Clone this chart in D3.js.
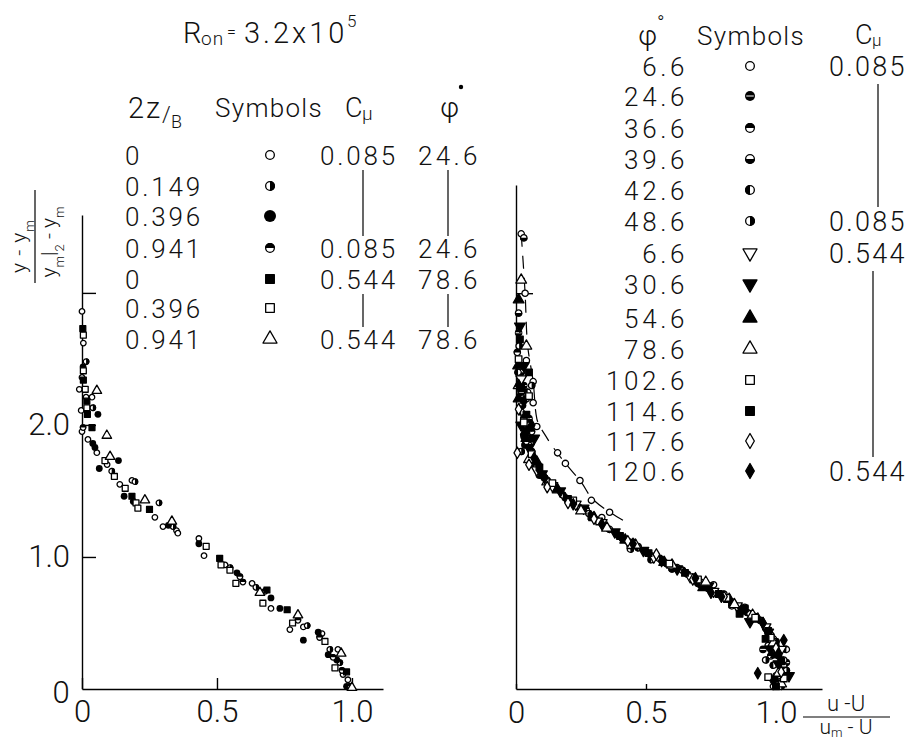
<!DOCTYPE html>
<html>
<head>
<meta charset="utf-8">
<script src="https://cdn.jsdelivr.net/npm/d3@7"></script>
<style>
  body { margin: 0; background: #fff; }
  svg text { font-family: Roboto, "DejaVu Sans", sans-serif; font-weight: 300; fill: #111; }
</style>
</head>
<body>
<svg id="chart" width="920" height="745"></svg>
<script>
// ---------- data ----------
// left panel: 2z/B series, Cmu and phi labels
const leftZ = ["0", "0.149", "0.396", "0.941", "0", "0.396", "0.941"];
const leftCmu = ["0.085", "", "", "0.085", "0.544", "", "0.544"];
const leftPhi = ["24.6", "", "", "24.6", "78.6", "", "78.6"];

// [ (u-U)/(um-U), (y-ym)/(ym/2-ym) ]
const left_z0_c085 = [[0, 2.86], [0.005, 2.62], [0, 2.36], [-0.01, 2.27], [0.015, 2.21], [0.037, 2.21],
  [-0.003, 2.11], [0, 1.95], [0.022, 1.89], [0.055, 1.79], [0.093, 1.7], [0.14, 1.55], [0.185, 1.58],
  [0.27, 1.3], [0.3, 1.23], [0.35, 1.2], [0.355, 1.18], [0.433, 1.14], [0.452, 1.01], [0.53, 0.94],
  [0.63, 0.8], [0.7, 0.61], [0.77, 0.45], [0.82, 0.47], [0.889, 0.42], [0.948, 0.3], [0.967, 0.11], [0.985, 0.07]];
const left_z149 = [[0.015, 2.48], [0.04, 2.13], [0.11, 1.65], [0.196, 1.57], [0.337, 1.23], [0.548, 0.92],
  [0.644, 0.77], [0.834, 0.48], [0.918, 0.3], [0.955, 0.2], [0.285, 1.41]];
const left_z396 = [[0.004, 2.44], [0.059, 2.08], [0.04, 1.86], [0.048, 1.83], [0.135, 1.73], [0.064, 1.67],
  [0.156, 1.46], [0.19, 1.42], [0.32, 1.24], [0.433, 1.1], [0.574, 0.88], [0.7, 0.69], [0.733, 0.61],
  [0.82, 0.37], [0.875, 0.43], [0.912, 0.26], [0.944, 0.22], [0.98, 0.02]];
const left_z941 = [[0.004, 1.98], [0.585, 0.85], [0.678, 0.74], [0.8, 0.52], [0.88, 0.39], [0.93, 0.24],
  [0.963, 0.14], [0.993, 0.02], [0.596, 0.81]];
const left_z0_c544 = [[0.003, 2.73], [0.005, 2.34], [0.02, 2.08], [0.037, 1.98], [0.185, 1.46], [0.25, 1.36],
  [0.51, 0.99], [0.685, 0.75], [0.76, 0.6], [0.98, 0.13], [0.018, 2.18]];
const left_z396_c544 = [[0.005, 2.68], [0.005, 2.41], [0.012, 2.27], [0.018, 2.13], [0.085, 1.73], [0.12, 1.61],
  [0.16, 1.52], [0.2, 1.41], [0.207, 1.37], [0.46, 1.08], [0.515, 0.94], [0.548, 0.9], [0.57, 0.8],
  [0.67, 0.65], [0.78, 0.5], [0.9, 0.36], [0.937, 0.16]];
const left_z941_c544 = [[0.055, 2.26], [0.092, 1.92], [0.104, 1.76], [0.233, 1.43], [0.333, 1.27],
  [0.659, 0.73], [0.8, 0.56], [1.0, 0.01], [0.96, 0.27]];
const leftData = [left_z0_c085, left_z149, left_z396, left_z941, left_z0_c544, left_z396_c544, left_z941_c544];

// right panel: phi series and Cmu labels
const rightPhi = ["6.6", "24.6", "36.6", "39.6", "42.6", "48.6", "6.6", "30.6", "54.6", "78.6", "102.6", "114.6", "117.6", "120.6"];
const rightCmu = ["0.085", "", "", "", "", "0.085", "0.544", "", "", "", "", "", "", "0.544"];

const r_p66 = [[0.02, 3.45], [0.035, 3.0], [0.04, 2.49], [0.066, 2.33], [0.066, 2.17], [0.08, 1.99], [0.16, 1.79],
  [0.19, 1.71], [0.246, 1.58], [0.29, 1.43], [0.33, 1.3], [0.36, 1.34], [0.47, 1.08], [0.62, 0.92],
  [0.71, 0.81], [0.76, 0.79], [0.8, 0.72], [0.88, 0.62], [0.97, 0.45], [1.01, 0.25], [1.03, 0.08], [0.99, 0.02]];
const r_p246 = [[0.01, 2.7], [0.02, 2.25], [0.04, 1.95], [0.09, 1.62], [0.15, 1.52], [0.27, 1.36], [0.43, 1.12],
  [0.56, 0.98], [0.66, 0.87], [0.79, 0.71], [0.92, 0.55], [1.0, 0.33], [1.02, 0.12],
  [0.03, 2.3], [0.05, 2.05], [0.95, 0.3], [1.04, 0.2], [0.7, 0.8]];
const r_p366 = [[0.005, 2.55], [0.03, 2.05], [0.06, 1.76], [0.12, 1.58], [0.21, 1.42], [0.34, 1.24], [0.5, 1.04],
  [0.61, 0.92], [0.74, 0.76], [0.86, 0.61], [0.96, 0.46], [1.01, 0.28], [1.0, 0.05],
  [0.04, 2.2], [0.06, 1.95], [1.02, 0.15], [0.98, 0.25], [0.83, 0.63]];
const r_p396 = [[0.03, 3.42], [0.01, 2.85], [0.025, 2.15], [0.05, 1.85], [0.1, 1.62], [0.19, 1.45], [0.31, 1.28],
  [0.41, 1.14], [0.52, 1.01], [0.69, 0.82], [0.83, 0.66], [0.94, 0.52], [0.99, 0.38], [1.03, 0.17],
  [0.02, 2.4], [0.05, 2.0], [1.0, 0.1], [0.97, 0.33], [0.6, 0.91]];
const r_p426 = [[0.008, 2.4], [0.02, 2.1], [0.07, 1.7], [0.13, 1.55], [0.24, 1.38], [0.36, 1.21], [0.47, 1.07],
  [0.58, 0.95], [0.71, 0.79], [0.89, 0.58], [0.98, 0.41], [1.03, 0.22], [1.01, 0.1],
  [0.045, 2.25], [0.035, 1.85], [0.99, 0.18], [1.04, 0.3], [0.52, 0.98]];
const r_p486 = [[0.012, 2.6], [0.03, 1.92], [0.06, 1.8], [0.11, 1.6], [0.18, 1.47], [0.28, 1.33], [0.39, 1.17],
  [0.55, 0.99], [0.64, 0.9], [0.77, 0.73], [0.9, 0.57], [1.0, 0.36], [1.04, 0.14],
  [0.06, 2.3], [0.02, 1.8], [0.96, 0.22], [1.02, 0.02], [0.44, 1.06]];
const r_p66b = [[0.02, 2.35], [0.04, 1.88], [0.08, 1.66], [0.14, 1.54], [0.23, 1.4], [0.33, 1.26], [0.44, 1.11],
  [0.53, 1.0], [0.67, 0.85], [0.76, 0.74], [0.85, 0.63], [0.96, 0.47], [1.02, 0.3]];
const r_p306 = [[0.015, 2.75], [0.02, 2.0], [0.05, 1.83], [0.1, 1.63], [0.17, 1.5], [0.26, 1.37], [0.38, 1.19],
  [0.49, 1.05], [0.62, 0.91], [0.74, 0.78], [0.87, 0.6], [0.97, 0.43], [1.01, 0.19],
  [0.03, 2.45], [0.07, 1.9], [1.05, 0.1], [0.98, 0.3], [0.9, 0.51]];
const r_p546 = [[0.01, 2.95], [0.008, 2.45], [0.01, 2.2], [0.04, 1.9], [0.08, 1.72], [0.16, 1.51], [0.3, 1.3],
  [0.42, 1.13], [0.57, 0.96], [0.72, 0.77], [0.82, 0.68], [0.93, 0.53], [1.0, 0.26]];
const r_p786 = [[0.02, 3.1], [0.01, 2.3], [0.05, 1.74], [0.12, 1.57], [0.25, 1.35], [0.35, 1.22], [0.46, 1.09],
  [0.6, 0.94], [0.73, 0.81], [0.84, 0.64], [0.91, 0.56], [0.99, 0.35], [1.02, 0.04],
  [0.04, 2.6], [1.01, 0.12]];
const r_p1026 = [[0.01, 2.5], [0.03, 2.02], [0.06, 1.78], [0.14, 1.56], [0.22, 1.43], [0.32, 1.27], [0.44, 1.09],
  [0.59, 0.95], [0.7, 0.83], [0.81, 0.69], [0.92, 0.54], [0.98, 0.39], [1.03, 0.08],
  [0.05, 2.22], [0.97, 0.09]];
const r_p1146 = [[0.015, 2.65], [0.02, 2.28], [0.04, 1.96], [0.09, 1.68], [0.2, 1.44], [0.29, 1.31], [0.4, 1.16],
  [0.51, 1.03], [0.65, 0.88], [0.78, 0.72], [0.88, 0.61], [0.97, 0.44], [1.02, 0.21],
  [0.05, 2.4], [0.04, 2.08], [1.0, 0.02], [0.96, 0.38], [0.86, 0.57]];
const r_p1176 = [[0.005, 1.79], [0.01, 2.12], [0.05, 1.7], [0.12, 1.53], [0.2, 1.41], [0.3, 1.29], [0.43, 1.12],
  [0.54, 1.02], [0.68, 0.83], [0.8, 0.7], [0.95, 0.5], [1.0, 0.31], [1.02, 0.13]];
const r_p1206 = [[0.01, 2.3], [0.03, 1.93], [0.07, 1.75], [0.11, 1.6], [0.22, 1.4], [0.33, 1.25], [0.45, 1.1],
  [0.56, 0.97], [0.69, 0.84], [0.79, 0.7], [0.93, 0.12], [0.95, 0.5], [1.01, 0.27],
  [0.03, 2.18], [0.06, 2.0], [0.99, 0.06], [1.03, 0.37], [0.75, 0.73]];
const rightData = [r_p66, r_p246, r_p366, r_p396, r_p426, r_p486, r_p66b, r_p306, r_p546, r_p786,
  r_p1026, r_p1146, r_p1176, r_p1206];

// dashed curve through the phi = 6.6, Cmu = 0.085 points
const dashedCurve = [[0.02, 3.45], [0.035, 3.0], [0.045, 2.6], [0.066, 2.33], [0.08, 2.05], [0.12, 1.9],
  [0.19, 1.71], [0.25, 1.57], [0.3, 1.43], [0.36, 1.34], [0.42, 1.27]];

// ---------- marker styles ----------
const leftSymbols = ["circle-open", "circle-right", "circle-filled", "circle-top", "square-filled", "square-open", "triup-open"];
const rightSymbols = ["circle-open", "circle-stripe", "circle-top", "circle-bottom", "circle-left", "circle-right",
  "tridown-open", "tridown-filled", "triup-filled", "triup-open", "square-open", "square-filled", "diamond-open", "diamond-filled"];

const svg = d3.select("#chart");

function marker(g, type, r) {
  const sw = 1.3;
  const [shape, mode] = type.split("-");
  if (shape === "circle") {
    if (mode === "filled") {
      g.append("circle").attr("r", r).attr("fill", "#000");
    } else if (mode === "stripe") {
      g.append("circle").attr("r", r).attr("fill", "#000");
      g.append("line").attr("x1", -r * 0.75).attr("x2", r * 0.75).attr("stroke", "#fff").attr("stroke-width", 1);
    } else {
      g.append("circle").attr("r", r - sw / 2).attr("fill", "#fff").attr("stroke", "#000").attr("stroke-width", sw);
      const halves = { left: [Math.PI, 2 * Math.PI], right: [0, Math.PI], top: [-Math.PI / 2, Math.PI / 2], bottom: [Math.PI / 2, 1.5 * Math.PI] };
      if (halves[mode]) {
        g.append("path")
          .attr("d", d3.arc()({ innerRadius: 0, outerRadius: r, startAngle: halves[mode][0], endAngle: halves[mode][1] }))
          .attr("fill", "#000");
      }
    }
    return;
  }
  const types = { square: d3.symbolSquare, triup: d3.symbolTriangle, tridown: d3.symbolTriangle, diamond: d3.symbolDiamond };
  const areas = { square: 3.0 * r * r, triup: 3.4 * r * r, tridown: 3.4 * r * r, diamond: 2.6 * r * r };
  g.append("path")
    .attr("d", d3.symbol(types[shape], areas[shape])())
    .attr("transform", shape === "tridown" ? "rotate(180)" : null)
    .attr("fill", mode === "filled" ? "#000" : "#fff")
    .attr("stroke", "#000")
    .attr("stroke-width", sw)
    .attr("stroke-linejoin", "round");
}

function label(x, y, str, size, anchor, spacing) {
  return svg.append("text").attr("x", x).attr("y", y)
    .attr("text-anchor", anchor || "start")
    .style("font-size", size + "px")
    .style("letter-spacing", (spacing || 0) + "px")
    .text(str);
}

// ---------- scales ----------
const xL = d3.scaleLinear().domain([0, 1.115]).range([82, 383]);
const yL = d3.scaleLinear().domain([0, 3.59]).range([689, 215]);
const xR = d3.scaleLinear().domain([0, 1.177]).range([516, 822]);
const yR = d3.scaleLinear().domain([0, 3.82]).range([689, 185]);

function styleAxis(g, fontSize) {
  g.select(".domain").attr("stroke", "#000").attr("stroke-width", 1.4);
  g.selectAll(".tick line").attr("stroke", "#000").attr("stroke-width", 1.4);
  g.selectAll(".tick text")
    .attr("fill", "#111")
    .style("font-family", "Roboto, 'DejaVu Sans', sans-serif")
    .style("font-weight", 300)
    .style("font-size", fontSize + "px");
}

const fmt = (d) => (d === 0 ? "0" : d.toFixed(1));

// left axes
svg.append("g").attr("transform", "translate(0,689)")
  .call(d3.axisBottom(xL).tickValues([0, 0.5, 1]).tickSizeInner(-11).tickSizeOuter(0).tickPadding(11).tickFormat(fmt))
  .call(styleAxis, 31);
svg.append("g").attr("transform", "translate(82,0)")
  .call(d3.axisLeft(yL).tickValues([1, 2, 3]).tickSizeInner(-14).tickSizeOuter(0).tickPadding(12)
    .tickFormat((d) => (d === 3 ? "" : d.toFixed(1))))
  .call(styleAxis, 31);
label(61, 703, "0", 31, "middle");

// right axes
svg.append("g").attr("transform", "translate(0,689)")
  .call(d3.axisBottom(xR).tickValues([0, 0.5, 1]).tickSizeInner(-5).tickSizeOuter(0).tickPadding(12).tickFormat(fmt))
  .call(styleAxis, 31);
svg.append("g").attr("transform", "translate(516,0)")
  .call(d3.axisLeft(yR).tickValues([3]).tickSizeInner(-17).tickSizeOuter(0).tickFormat(() => ""))
  .call(styleAxis, 31);

// ---------- data marks ----------
leftData.forEach((pts, i) => {
  svg.append("g").selectAll("g").data(pts).join("g")
    .attr("transform", (d) => `translate(${xL(d[0])},${yL(d[1])})`)
    .each(function () { marker(d3.select(this), leftSymbols[i], 3.4); });
});

svg.append("path")
  .datum(dashedCurve)
  .attr("d", d3.line().x((d) => xR(d[0])).y((d) => yR(d[1])).curve(d3.curveMonotoneY))
  .attr("fill", "none").attr("stroke", "#000").attr("stroke-width", 1.2)
  .attr("stroke-dasharray", "13,9");

rightData.forEach((pts, i) => {
  svg.append("g").selectAll("g").data(pts).join("g")
    .attr("transform", (d) => `translate(${xR(d[0])},${yR(d[1])})`)
    .each(function () { marker(d3.select(this), rightSymbols[i], 3.8); });
});

// ---------- title ----------
label(183, 43, "R", 29);
label(201, 45, "on", 19, "start", 1);
label(227, 37, "=", 16);
label(244, 43, "3.2x10", 29, "start", 3);
label(347, 27, "5", 17);

// ---------- left legend ----------
label(128, 118, "2z", 29, "start", 2);
label(162, 122, "/", 22);
label(171, 128, "B", 18);
label(215, 117, "Symbols", 26, "start", 1.3);
label(345, 117, "C", 27);
label(362, 120, "μ", 19);
label(440, 117, "φ", 28);
svg.append("circle").attr("cx", 461).attr("cy", 87).attr("r", 2.2).attr("fill", "#000");

const leftRowY = [165, 196, 226, 258, 289, 318, 349];
leftZ.forEach((z, i) => {
  label(125, leftRowY[i], z, 26, "start", 2.8);
  const g = svg.append("g").attr("transform", `translate(270,${leftRowY[i] - 10})`);
  marker(g, leftSymbols[i], leftSymbols[i] === "circle-filled" ? 6 : 5);
  if (leftCmu[i]) label(320, leftRowY[i], leftCmu[i], 26, "start", 2.8);
  if (leftPhi[i]) label(418, leftRowY[i], leftPhi[i], 26, "start", 3.3);
});
[[0, 3], [4, 6]].forEach(([a, b]) => {
  [363, 448].forEach((x) => {
    svg.append("line").attr("x1", x).attr("x2", x)
      .attr("y1", leftRowY[a] + 5).attr("y2", leftRowY[b] - 22)
      .attr("stroke", "#000").attr("stroke-width", 1.2);
  });
});

// ---------- right legend ----------
label(638, 45, "φ", 28);
label(657, 30, "°", 20);
label(697, 45, "Symbols", 26, "start", 1.3);
label(855, 44, "C", 27);
label(872, 46, "μ", 17);

const rightRowY = [76, 106, 138, 169, 200, 231, 263, 294, 328, 359, 390, 421, 451, 481];
rightPhi.forEach((p, i) => {
  label(688, rightRowY[i], p, 26, "end", 3.6);
  const g = svg.append("g").attr("transform", `translate(750,${rightRowY[i] - 10})`);
  marker(g, rightSymbols[i], 5);
  if (rightCmu[i]) label(829, rightRowY[i], rightCmu[i], 27, "start", 2.3);
});
[[0, 5, 878], [6, 13, 873]].forEach(([a, b, x]) => {
  svg.append("line").attr("x1", x).attr("x2", x)
    .attr("y1", rightRowY[a] + 8).attr("y2", rightRowY[b] - 24)
    .attr("stroke", "#000").attr("stroke-width", 1.2);
});

// ---------- axis titles ----------
const yt = svg.append("g");
const num = yt.append("text").attr("transform", "translate(26,246) rotate(-90)")
  .attr("text-anchor", "middle").style("font-size", "21px").style("letter-spacing", "1px");
num.append("tspan").text("y   -  y");
num.append("tspan").attr("baseline-shift", "sub").style("font-size", "13px").text("m");
yt.append("line").attr("x1", 35).attr("x2", 35).attr("y1", 190).attr("y2", 283)
  .attr("stroke", "#000").attr("stroke-width", 1.2);
const den = yt.append("text").attr("transform", "translate(56,242) rotate(-90)")
  .attr("text-anchor", "middle").style("font-size", "21px");
den.append("tspan").text("y");
den.append("tspan").attr("baseline-shift", "sub").style("font-size", "13px").text("m");
den.append("tspan").text("|");
den.append("tspan").attr("baseline-shift", "sub").style("font-size", "13px").text("2");
den.append("tspan").text(" - y");
den.append("tspan").attr("baseline-shift", "sub").style("font-size", "13px").text("m");

const xt = svg.append("g");
xt.append("text").attr("x", 846).attr("y", 711).attr("text-anchor", "middle")
  .style("font-size", "22px").text("u   -U");
xt.append("line").attr("x1", 803).attr("x2", 890).attr("y1", 717).attr("y2", 717)
  .attr("stroke", "#000").attr("stroke-width", 1.2);
const xd = xt.append("text").attr("x", 846).attr("y", 734).attr("text-anchor", "middle").style("font-size", "21px");
xd.append("tspan").text("u");
xd.append("tspan").attr("dy", 3).style("font-size", "13px").text("m");
xd.append("tspan").attr("dy", -3).text(" - U");
</script>
</body>
</html>
